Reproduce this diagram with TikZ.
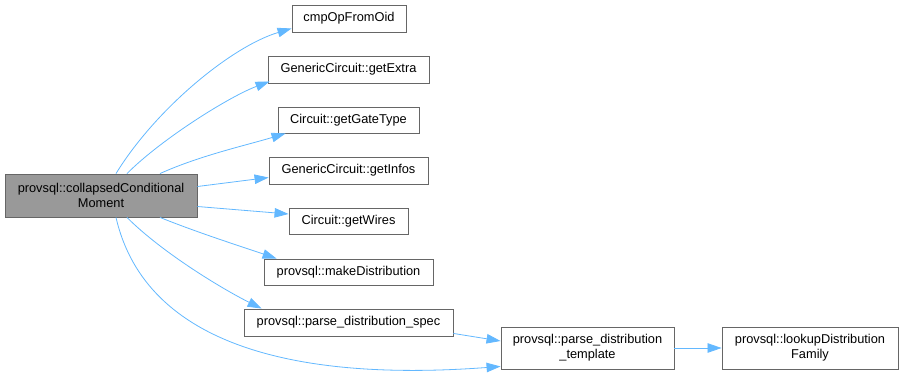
\documentclass[tikz,border=0pt]{standalone}
\usepackage{fontspec}
\setmainfont{Liberation Sans}
\usepackage{xcolor}
\usepackage{tikz}
\usetikzlibrary{arrows.meta}
\definecolor{edgeblue}{HTML}{63B8FF}
\definecolor{boxgray}{HTML}{666666}
\definecolor{rootgray}{HTML}{999999}

\begin{document}
\begin{tikzpicture}[
  x=1pt, y=-1pt,
  func/.style={draw=boxgray, fill=white, line width=0.9pt, align=center,
    inner sep=0pt, minimum height=27pt, font=\fontsize{12.8}{15}\selectfont},
  twoline/.style={func, minimum height=42pt},
  root/.style={twoline, fill=rootgray, minimum height=43pt},
  line/.style={-{Triangle[length=14pt, width=9.5pt, fill=edgeblue]}, draw=edgeblue,
    line width=0.8pt}
]
\useasboundingbox (0,0) rectangle (903,381);

\node[root, minimum width=192pt] (collapsed) at (101,195.5)
  {provsql::collapsedConditional\\Moment};
\node[func, minimum width=114pt] (cmp-op) at (349,18.5) {cmpOpFromOid};
\node[func, minimum width=161pt] (get-extra) at (348.5,69.5) {GenericCircuit::getExtra};
\node[func, minimum width=141pt, minimum height=26pt] (get-gate-type) at (348.5,120) {Circuit::getGateType};
\node[func, minimum width=159pt] (get-infos) at (348.5,170.5) {GenericCircuit::getInfos};
\node[func, minimum width=119pt, minimum height=26pt] (get-wires) at (348.5,221) {Circuit::getWires};
\node[func, minimum width=169pt, minimum height=26pt] (make-dist) at (348.5,272) {provsql::makeDistribution};
\node[func, minimum width=209pt] (parse-spec) at (348.5,322.5) {provsql::parse\_distribution\_spec};
\node[twoline, minimum width=173pt] (parse-template) at (587.5,348)
  {provsql::parse\_distribution\\\_template};
\node[twoline, minimum width=176pt] (lookup-family) at (810,348)
  {provsql::lookupDistribution\\Family};

\draw[line] ([xshift=15pt]collapsed.north) .. controls +(40,-65) and +(-60,18) .. ([yshift=4pt]cmp-op.south west);
\draw[line] ([xshift=26pt]collapsed.north) .. controls +(35,-35) and +(-40,15) .. ([xshift=2pt,yshift=2pt]get-extra.south west);
\draw[line] ([xshift=59pt]collapsed.north) .. controls +(40,-18) and +(-40,12) .. ([xshift=8pt]get-gate-type.south west);
\draw[line] ([yshift=9pt]collapsed.east) -- ([yshift=-7pt]get-infos.west);
\draw[line] ([yshift=-11pt]collapsed.east) -- ([yshift=7pt]get-wires.west);
\draw[line] ([xshift=59pt]collapsed.south) .. controls +(40,16) and +(-35,-12) .. ([xshift=13pt]make-dist.north west);
\draw[line] ([xshift=26pt]collapsed.south) .. controls +(35,35) and +(-40,-20) .. ([xshift=18pt]parse-spec.north west);
\draw[line] ([xshift=15pt]collapsed.south) .. controls +(30,130) and +(-200,15) .. ([yshift=3pt]parse-template.south west);
\draw[line] ([yshift=3pt]parse-spec.south east) -- ([yshift=7pt]parse-template.west);
\draw[line] (parse-template) -- (lookup-family);
\end{tikzpicture}
\end{document}
